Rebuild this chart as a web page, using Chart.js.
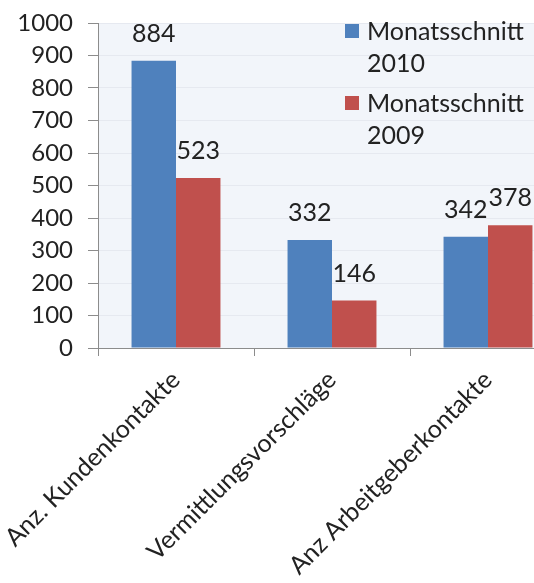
<!DOCTYPE html>
<html>
<head>
<meta charset="utf-8">
<script src="https://cdn.jsdelivr.net/npm/chart.js@4"></script>
<style>
  html, body { margin: 0; padding: 0; background: #fff; overflow: hidden; }
  .wrap { width: 570px; height: 583px; }
</style>
</head>
<body>
<div class="wrap"><canvas id="chart" width="570" height="583"></canvas></div>
<script>
const categories = ['Anz. Kundenkontakte', 'Vermittlungsvorschläge', 'Anz Arbeitgeberkontakte'];
const seriesNames = ['Monatsschnitt 2010', 'Monatsschnitt 2009'];
const values2010 = [884, 332, 342];
const values2009 = [523, 146, 378];
const yTicks = [0, 100, 200, 300, 400, 500, 600, 700, 800, 900, 1000];

const FONT = 'Lato, "Open Sans", sans-serif';
const TEXT = '#222';

const plotBg = {
  id: 'plotBg',
  beforeDraw(chart) {
    const { ctx, chartArea: a } = chart;
    ctx.save();
    ctx.fillStyle = '#f2f5fa';
    ctx.fillRect(a.left, a.top, a.right - a.left, a.bottom - a.top);
    ctx.restore();
  }
};

const valueLabels = {
  id: 'valueLabels',
  afterDatasetsDraw(chart) {
    const ctx = chart.ctx;
    ctx.save();
    ctx.font = '25px ' + FONT;
    ctx.fillStyle = TEXT;
    ctx.textAlign = 'center';
    ctx.textBaseline = 'middle';
    chart.data.datasets.forEach((ds, i) => {
      chart.getDatasetMeta(i).data.forEach((bar, j) => {
        ctx.fillText(String(ds.data[j]), bar.x, bar.y - 27);
      });
    });
    ctx.restore();
  }
};

const sideLegend = {
  id: 'sideLegend',
  afterDraw(chart) {
    const ctx = chart.ctx;
    ctx.save();
    ctx.font = '25px ' + FONT;
    ctx.textBaseline = 'middle';
    ctx.textAlign = 'left';
    chart.data.datasets.forEach((ds, i) => {
      const y0 = 24 + i * 72;
      ctx.fillStyle = ds.backgroundColor;
      ctx.fillRect(345, y0, 14, 14);
      ctx.fillStyle = TEXT;
      ds.label.split(' ').forEach((line, k) => {
        ctx.fillText(line, 367, y0 + 8 + k * 32);
      });
    });
    ctx.restore();
  }
};

new Chart(document.getElementById('chart').getContext('2d'), {
  type: 'bar',
  data: {
    labels: categories,
    datasets: [
      { label: seriesNames[0], data: values2010, backgroundColor: '#4f81bd' },
      { label: seriesNames[1], data: values2009, backgroundColor: '#c0504d' }
    ]
  },
  options: {
    responsive: false,
    animation: false,
    events: [],
    layout: { padding: { top: 23, right: 4, left: 0, bottom: 0 } },
    datasets: { bar: { categoryPercentage: 0.57, barPercentage: 1.0 } },
    plugins: { legend: { display: false }, tooltip: { enabled: false } },
    scales: {
      x: {
        afterFit(scale) {
          scale.height = 235;
          scale.paddingLeft = 0;
          scale.paddingRight = 0;
        },
        grid: { drawOnChartArea: false, drawTicks: true, tickLength: 8, color: '#8c8c8c' },
        border: { color: '#8c8c8c', width: 1 },
        ticks: {
          autoSkip: false, maxRotation: 45, minRotation: 45, padding: 9,
          color: TEXT, font: { family: FONT, size: 25 }
        }
      },
      y: {
        min: 0, max: 1000,
        afterFit(scale) {
          scale.width = 98;
          scale.paddingTop = 0;
          scale.paddingBottom = 0;
        },
        afterBuildTicks(scale) { scale.ticks = yTicks.map(v => ({ value: v })); },
        grid: { color: '#e6e9f0', tickColor: '#8c8c8c', tickLength: 10 },
        border: { color: '#8c8c8c', width: 1 },
        ticks: {
          padding: 15, color: TEXT, font: { family: FONT, size: 24 },
          callback: v => String(v)
        }
      }
    }
  },
  plugins: [plotBg, valueLabels, sideLegend]
});
</script>
</body>
</html>
